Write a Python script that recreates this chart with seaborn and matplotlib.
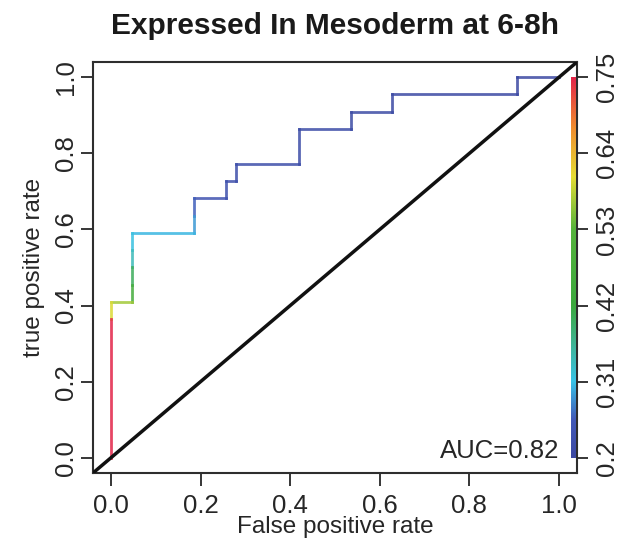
import numpy as np
import pandas as pd
import matplotlib
matplotlib.use("Agg")
import matplotlib.pyplot as plt
from matplotlib.colors import LinearSegmentedColormap, Normalize
import seaborn as sns

# ROC curve vertices (false positive rate, true positive rate) and the
# classifier cutoff reached at each vertex
fpr = [0.000, 0.000, 0.000, 0.047, 0.047, 0.047, 0.047, 0.047, 0.186, 0.186,
       0.186, 0.256, 0.256, 0.279, 0.279, 0.419, 0.419, 0.535, 0.535, 0.628,
       0.628, 0.907, 0.907, 1.000]
tpr = [0.000, 0.364, 0.409, 0.409, 0.455, 0.500, 0.545, 0.591, 0.591, 0.636,
       0.682, 0.682, 0.727, 0.727, 0.773, 0.773, 0.864, 0.864, 0.909, 0.909,
       0.955, 0.955, 1.000, 1.000]
cutoff = [0.75, 0.60, 0.57, 0.46, 0.40, 0.34, 0.315, 0.305, 0.29, 0.26,
          0.235, 0.23, 0.225, 0.22, 0.22, 0.215, 0.215, 0.21, 0.21, 0.205,
          0.205, 0.20, 0.20, 0.20]

auc_value = 0.82
cut_ticks = [0.2, 0.31, 0.42, 0.53, 0.64, 0.75]
x_ticks = [0.0, 0.2, 0.4, 0.6, 0.8, 1.0]
y_ticks = [0.0, 0.2, 0.4, 0.6, 0.8, 1.0]

title = "Expressed In Mesoderm at 6-8h"
xlabel = "False positive rate"
ylabel = "true positive rate"

sns.set_theme(style="white")
plt.rcParams["font.family"] = ["Liberation Sans", "DejaVu Sans"]

# rainbow palette for the cutoff scale (blue = low, red = high)
cmap = LinearSegmentedColormap.from_list("cut", [
    (0.00, "#3c49a2"),
    (0.10, "#4259b8"),
    (0.20, "#38c2e6"),
    (0.29, "#3fb59c"),
    (0.40, "#3ca83e"),
    (0.60, "#55b33c"),
    (0.74, "#e6dd34"),
    (0.87, "#f08b2e"),
    (1.00, "#e2264a"),
])
norm = Normalize(vmin=min(cut_ticks), vmax=max(cut_ticks))

# one two-point row pair per curve segment, coloured by its starting cutoff
rows = []
for i in range(len(fpr) - 1):
    rows.append({"seg": i, "fpr": fpr[i], "tpr": tpr[i], "cutoff": cutoff[i]})
    rows.append({"seg": i, "fpr": fpr[i + 1], "tpr": tpr[i + 1], "cutoff": cutoff[i]})
seg_df = pd.DataFrame(rows)

fig = plt.figure(figsize=(6.31, 5.40), dpi=100)
ax = fig.add_axes([0.1474, 0.1241, 0.7670, 0.7611])

ink = "#262626"

sns.lineplot(data=seg_df, x="fpr", y="tpr", units="seg", estimator=None,
             hue="cutoff", palette=cmap, hue_norm=norm, sort=False,
             legend=False, linewidth=2.0, alpha=0.85, ax=ax,
             solid_capstyle="projecting")

# chance diagonal across the whole plotting region
ax.axline((0, 0), slope=1, color="#111111", linewidth=2.5, zorder=3)

# colour key along the right edge
grad = np.linspace(0, 1, 256).reshape(-1, 1)
ax.imshow(grad, cmap=cmap, aspect="auto", origin="lower",
          extent=[1.027, 1.038, 0.0, 1.0], zorder=4)

ax.set_xlim(-0.04, 1.04)
ax.set_ylim(-0.04, 1.04)

ax.set_xticks(x_ticks)
ax.set_xticklabels([f"{v:.1f}" for v in x_ticks])
ax.set_yticks(y_ticks)
ax.set_yticklabels([f"{v:.1f}" for v in y_ticks], rotation=90, va="center")

ax.tick_params(axis="x", direction="out", length=9, width=1.3, color=ink,
               labelsize=18.5, labelcolor=ink, pad=6, bottom=True)
ax.tick_params(axis="y", direction="out", length=9, width=1.3, color=ink,
               labelsize=18.5, labelcolor=ink, pad=2, left=True)

ax.set_xlabel(xlabel, fontsize=17.5, color=ink, labelpad=-1)
ax.set_ylabel(ylabel, fontsize=17.5, color=ink, labelpad=6)
ax.set_title(title, fontsize=21.5, fontweight="bold", color="#1a1a1a", pad=20)

for sp in ax.spines.values():
    sp.set_visible(True)
    sp.set_color("#2e2e2e")
    sp.set_linewidth(1.5)

ax.text(1.0, 0.0, f"AUC={auc_value}", ha="right", va="baseline",
        fontsize=18.5, color=ink, zorder=5)

# right axis labelled with cutoff values of the colour key
ax2 = ax.twinx()
ax2.set_ylim(ax.get_ylim())
ax2.set_yticks([norm(v) for v in cut_ticks])
ax2.set_yticklabels([f"{v:g}" for v in cut_ticks], rotation=90, va="center")
ax2.tick_params(axis="y", direction="out", length=8, width=1.3, color=ink,
                labelsize=18.5, labelcolor=ink, pad=5, right=True)
for sp in ax2.spines.values():
    sp.set_visible(False)
ax2.grid(False)

fig.savefig("out.png", dpi=100, facecolor="white")
